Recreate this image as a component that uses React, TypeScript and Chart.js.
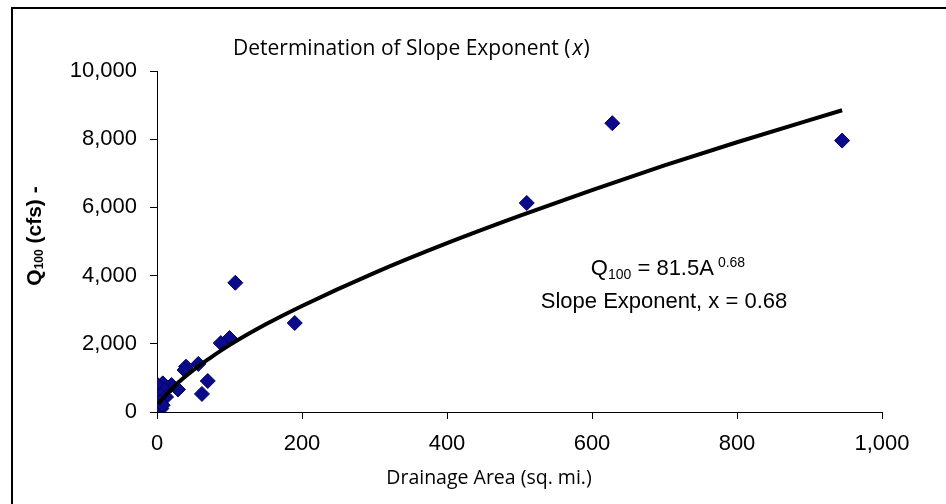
import { useEffect, useRef } from 'react';
import { Chart, registerables } from 'chart.js';

Chart.register(...registerables);

// Observed gauges: drainage area (sq. mi.) and Q100 (cfs)
const observedArea = [945, 628, 510, 190, 108, 100, 88, 57, 40, 38, 70, 62, 29, 20, 8, 1, 11, 4, 12.5, 4, 6, 8];
const observedFlow = [7960, 8470, 6130, 2610, 3790, 2170, 2020, 1410, 1330, 1230, 910, 530, 660, 790, 840, 790, 640, 490, 440, 300, 100, 200];

// Power trendline
const trendArea = [2, 5, 10, 25, 50, 75, 100, 150, 200, 300, 400, 500, 600, 700, 800, 945];
const trendFlow = [230, 320, 440, 780, 1230, 1610, 1960, 2570, 3110, 4080, 4950, 5750, 6510, 7230, 7910, 8850];

const xTickValues = [0, 200, 400, 600, 800, 1000];
const yTickValues = [0, 2000, 4000, 6000, 8000, 10000];

const titleMain = 'Determination of Slope Exponent (';
const titleVar = 'x';
const titleEnd = ')';
const xAxisTitle = 'Drainage Area (sq. mi.)';
const yAxisTitleMain = 'Q';
const yAxisTitleSub = '100';
const yAxisTitleRest = ' (cfs) -';
const eqQ = 'Q';
const eqSub = '100';
const eqBody = ' = 81.5A';
const eqExp = '0.68';
const eqLine2 = 'Slope Exponent, x = 0.68';

const ARIAL = '"Liberation Sans", Arial, sans-serif';
const HUMANIST = '"Open Sans", "DejaVu Sans", sans-serif';

const overlay = {
  id: 'overlay',
  afterDraw(chart: any) {
    const ctx: CanvasRenderingContext2D = chart.ctx;
    ctx.save();
    // outer frame
    ctx.strokeStyle = '#000';
    ctx.lineWidth = 2;
    ctx.beginPath();
    ctx.moveTo(12, 504);
    ctx.lineTo(12, 8);
    ctx.lineTo(946, 8);
    ctx.stroke();

    ctx.fillStyle = '#000';
    ctx.textBaseline = 'alphabetic';
    ctx.textAlign = 'left';

    // title
    let x = 233;
    ctx.font = `21px ${HUMANIST}`;
    ctx.fillText(titleMain, x, 55);
    x += ctx.measureText(titleMain).width + 2;
    ctx.font = `italic 21px ${HUMANIST}`;
    ctx.fillText(titleVar, x, 55);
    x += ctx.measureText(titleVar).width + 1;
    ctx.font = `21px ${HUMANIST}`;
    ctx.fillText(titleEnd, x, 55);

    // x axis title
    ctx.font = `19.5px ${HUMANIST}`;
    ctx.textAlign = 'center';
    ctx.fillText(xAxisTitle, 489, 484);
    ctx.textAlign = 'left';

    // equation annotation
    const big = `22px ${ARIAL}`;
    const small = `14px ${ARIAL}`;
    ctx.font = big;
    const wQ = ctx.measureText(eqQ).width;
    const wBody = ctx.measureText(eqBody).width;
    ctx.font = small;
    const wSub = ctx.measureText(eqSub).width;
    const wExp = ctx.measureText(eqExp).width;
    const gap = 4;
    const total = wQ + wSub + wBody + gap + wExp;
    const cx = 668;
    x = cx - total / 2;
    ctx.font = big;
    ctx.fillText(eqQ, x, 275);
    x += wQ;
    ctx.font = small;
    ctx.fillText(eqSub, x, 279);
    x += wSub;
    ctx.font = big;
    ctx.fillText(eqBody, x, 275);
    x += wBody + gap;
    ctx.font = small;
    ctx.fillText(eqExp, x, 267);
    ctx.font = big;
    ctx.textAlign = 'center';
    ctx.fillText(eqLine2, 664, 308);
    ctx.textAlign = 'left';

    // y axis title (rotated)
    ctx.translate(41, 236);
    ctx.rotate(-Math.PI / 2);
    const yb = `bold 21px ${ARIAL}`;
    const ys = `bold 12px ${ARIAL}`;
    ctx.font = yb;
    const w1 = ctx.measureText(yAxisTitleMain).width;
    const w3 = ctx.measureText(yAxisTitleRest).width;
    ctx.font = ys;
    const w2 = ctx.measureText(yAxisTitleSub).width;
    let tx = -(w1 + w2 + w3) / 2;
    ctx.font = yb;
    ctx.fillText(yAxisTitleMain, tx, 0);
    tx += w1;
    ctx.font = ys;
    ctx.fillText(yAxisTitleSub, tx, 2);
    tx += w2;
    ctx.font = yb;
    ctx.fillText(yAxisTitleRest, tx, 0);
    ctx.restore();
  },
};

export default function App() {
  const ref = useRef<HTMLCanvasElement | null>(null);

  useEffect(() => {
    if (!ref.current) return;
    const chart = new Chart(ref.current, {
      type: 'scatter',
      data: {
        datasets: [
          {
            type: 'line',
            label: 'Power trend',
            data: trendArea.map((a, i) => ({ x: a, y: trendFlow[i] })),
            borderColor: '#000',
            borderWidth: 4,
            pointRadius: 0,
            fill: false,
            cubicInterpolationMode: 'monotone',
          } as any,
          {
            label: 'Observed',
            data: observedArea.map((a, i) => ({ x: a, y: observedFlow[i] })),
            pointStyle: 'rectRot',
            pointRadius: 7.5,
            backgroundColor: '#0b0b8a',
            borderColor: '#000070',
            borderWidth: 1,
          },
        ],
      },
      options: {
        responsive: false,
        animation: false,
        layout: { padding: { left: 0, top: 71, right: 64, bottom: 0 } },
        plugins: { legend: { display: false }, tooltip: { enabled: false }, title: { display: false } },
        scales: {
          x: {
            type: 'linear',
            min: 0,
            max: 1000,
            afterFit: (s: any) => { s.height = 92; },
            afterBuildTicks: (s: any) => { s.ticks = xTickValues.map((v) => ({ value: v })); },
            grid: { drawOnChartArea: false, tickLength: 7, tickColor: '#000' },
            border: { color: '#000', width: 1 },
            ticks: {
              color: '#000',
              padding: 12,
              maxRotation: 0,
              font: { family: ARIAL, size: 22 },
              callback: (v: any) => Number(v).toLocaleString('en-US'),
            },
          },
          y: {
            type: 'linear',
            min: 0,
            max: 10000,
            afterFit: (s: any) => { s.width = 157; },
            afterBuildTicks: (s: any) => { s.ticks = yTickValues.map((v) => ({ value: v })); },
            grid: { drawOnChartArea: false, tickLength: 7, tickColor: '#000' },
            border: { color: '#000', width: 1 },
            ticks: {
              color: '#000',
              padding: 13,
              font: { family: ARIAL, size: 22 },
              callback: (v: any) => Number(v).toLocaleString('en-US'),
            },
          },
        },
      },
      plugins: [overlay],
    });
    return () => chart.destroy();
  }, []);

  return (
    <div style={{ position: 'fixed', left: 0, top: 0, width: 946, height: 504, background: '#fff' }}>
      <canvas ref={ref} width={946} height={504} style={{ display: 'block' }} />
    </div>
  );
}
